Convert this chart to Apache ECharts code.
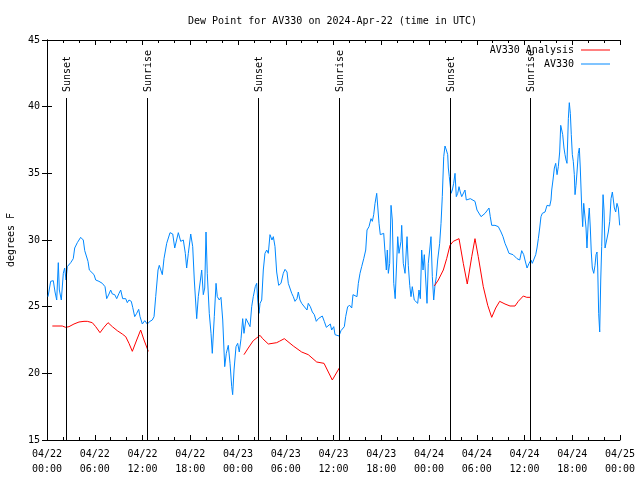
<!DOCTYPE html>
<html>
<head>
<meta charset="utf-8">
<script src="https://cdn.jsdelivr.net/npm/echarts@6/dist/echarts.min.js"></script>
<style>html,body{margin:0;padding:0;background:#fff}#c{width:640px;height:480px}</style>
</head>
<body>
<div id="c"></div>
<script>
// Hours since 2024-04-22 00:00 UTC
const tickLabels = ["04/22\n00:00","04/22\n06:00","04/22\n12:00","04/22\n18:00","04/23\n00:00","04/23\n06:00","04/23\n12:00","04/23\n18:00","04/24\n00:00","04/24\n06:00","04/24\n12:00","04/24\n18:00","04/25\n00:00"];

const obsHours = [0.13,0.46,0.79,1.01,1.22,1.42,1.55,1.80,2.05,2.22,2.39,2.55,2.98,3.30,3.48,3.81,4.23,4.56,4.74,4.99,5.15,5.32,5.57,5.91,6.12,6.53,6.95,7.29,7.50,7.79,8.00,8.21,8.51,8.76,9.05,9.26,9.51,9.89,10.09,10.30,10.59,10.77,11.02,11.27,11.52,11.69,11.98,12.28,12.60,12.94,13.23,13.45,13.66,13.95,14.11,14.36,14.49,14.70,15.04,15.46,15.80,16.05,16.30,16.50,16.80,17.13,17.38,17.55,17.76,18.06,18.31,18.51,18.81,19.01,19.23,19.44,19.64,19.82,19.98,20.14,20.39,20.61,20.77,21.02,21.24,21.40,21.65,21.86,22.08,22.33,22.53,22.78,23.00,23.21,23.33,23.50,23.75,23.96,24.16,24.38,24.59,24.75,25.01,25.26,25.51,25.72,25.92,26.17,26.35,26.48,26.64,26.77,26.98,27.18,27.39,27.61,27.81,28.02,28.27,28.44,28.65,28.86,29.11,29.40,29.69,29.91,30.16,30.32,30.53,30.75,30.95,31.16,31.41,31.58,31.79,32.00,32.26,32.51,32.67,32.83,33.09,33.34,33.59,33.84,34.09,34.34,34.59,34.84,35.10,35.35,35.60,35.77,36.03,36.19,36.44,36.69,36.94,37.19,37.36,37.53,37.78,38.04,38.29,38.45,38.70,38.95,39.12,39.33,39.54,39.80,40.05,40.21,40.46,40.71,40.88,41.05,41.22,41.43,41.55,41.72,41.88,42.13,42.31,42.47,42.64,42.76,42.89,43.06,43.23,43.39,43.57,43.75,44.07,44.23,44.48,44.57,44.77,44.99,45.24,45.40,45.58,45.74,45.90,46.15,46.40,46.58,46.74,46.91,47.08,47.25,47.41,47.59,47.75,47.91,48.09,48.25,48.42,48.59,48.75,48.92,49.09,49.34,49.51,49.67,49.85,50.01,50.18,50.35,50.43,50.55,50.77,50.93,51.10,51.27,51.43,51.61,51.77,51.93,52.11,52.36,52.52,52.69,52.94,53.19,53.44,53.78,54.03,54.28,54.54,54.79,55.04,55.29,55.54,55.70,55.88,56.29,56.71,57.05,57.30,57.55,57.80,58.05,58.30,58.56,58.81,59.06,59.31,59.40,59.65,59.90,60.06,60.32,60.57,60.82,60.98,61.16,61.41,61.57,61.74,61.91,62.07,62.24,62.58,62.83,63.17,63.33,63.42,63.58,63.75,63.92,64.09,64.25,64.42,64.55,64.68,64.80,64.96,65.09,65.22,65.34,65.51,65.63,65.76,65.88,66.01,66.13,66.26,66.35,66.47,66.60,66.76,66.89,67.01,67.19,67.31,67.44,67.60,67.73,67.85,68.02,68.14,68.27,68.39,68.52,68.70,68.86,68.99,69.11,69.20,69.32,69.45,69.58,69.70,69.87,69.99,70.12,70.37,70.53,70.71,70.87,71.04,71.16,71.29,71.46,71.62,71.79,71.96];
const obsDew = [25.75,26.9,26.95,26.1,25.5,28.3,26.25,25.5,27.5,27.9,27.0,28.0,28.3,28.6,29.4,29.8,30.2,30.0,29.2,29.25,28.4,27.75,27.6,27.4,27.0,26.9,26.75,26.5,25.6,25.95,26.25,25.95,25.9,25.6,26.0,26.25,25.6,25.6,25.3,25.5,25.4,24.95,24.25,24.5,24.8,24.25,23.7,23.95,23.7,23.9,24.0,24.25,25.75,27.75,28.1,28.25,27.4,28.6,29.75,30.55,30.45,29.4,29.5,30.55,29.9,30.0,29.0,27.9,29.0,30.45,29.5,27.0,24.1,25.75,25.9,27.75,25.9,26.4,30.6,27.5,24.5,23.0,21.5,24.25,26.75,25.75,25.5,25.7,24.0,20.5,21.5,22.1,20.75,19.0,18.4,20.25,22.0,22.25,21.6,22.6,24.1,23.0,24.1,24.25,23.5,25.0,25.75,26.5,26.75,25.5,24.5,25.25,25.5,27.75,29.0,29.25,29.0,30.4,30.0,30.25,29.5,27.6,26.6,26.75,27.5,27.8,27.6,26.75,26.9,26.0,25.75,25.4,25.6,26.1,25.5,25.25,25.05,25.0,24.75,25.25,25.0,24.6,24.4,23.9,24.1,24.05,24.3,23.9,23.45,23.5,23.7,23.25,23.5,22.9,23.0,22.8,23.2,23.05,23.5,24.25,25.0,25.1,24.9,25.9,26.0,25.75,26.75,27.5,28.0,28.6,29.25,30.75,31.0,31.6,31.4,31.9,32.75,33.5,33.5,31.25,30.4,30.5,30.5,29.1,27.75,29.25,27.5,28.25,32.6,31.5,26.75,25.6,30.25,29.0,29.9,31.1,28.25,27.5,30.25,28.1,26.6,25.75,26.5,25.5,25.4,25.25,26.25,25.6,29.25,27.75,28.9,27.0,25.25,28.25,29.25,30.25,27.25,25.5,26.6,27.25,28.5,29.75,31.25,33.25,36.25,37.05,36.75,36.4,35.4,34.75,33.5,33.75,34.25,35.0,33.25,33.5,34.0,33.6,33.25,33.1,33.75,33.0,32.9,33.1,33.1,32.9,32.25,32.4,31.75,31.9,32.0,32.1,32.4,31.75,31.1,31.1,31.0,30.6,30.25,29.75,29.4,29.0,29.1,28.9,28.95,28.6,28.6,28.5,29.2,28.9,28.5,27.9,28.25,28.5,28.25,28.1,28.9,29.4,30.1,30.9,31.75,32.0,32.1,32.6,32.55,33.0,33.75,34.5,35.4,35.75,34.9,35.5,36.6,38.6,38.25,37.9,36.9,36.4,36.0,35.75,39.1,40.3,39.5,37.9,36.4,35.9,34.9,33.4,34.1,35.1,36.5,36.9,35.4,32.4,31.0,32.75,32.6,30.9,29.4,31.5,32.4,30.9,29.1,27.9,27.5,28.1,28.9,29.1,27.9,24.5,23.1,27.0,29.5,33.4,32.25,29.4,29.4,30.6,31.4,33.1,33.6,33.75,32.4,32.1,32.75,32.4,31.1];

const anaHours = [0.67,1.92,2.35,2.76,3.39,4.02,4.65,5.06,5.69,6.12,6.66,7.16,7.67,8.21,8.83,9.46,9.89,10.30,10.72,11.27,11.77,12.19,12.73,18.0,24.75,25.29,25.92,26.77,27.10,27.81,28.86,29.19,29.82,30.95,32.00,32.83,33.89,34.81,35.85,36.73,42.0,48.67,49.17,49.80,50.22,50.64,51.05,51.77,52.31,52.81,53.37,53.78,54.19,54.82,55.38,55.88,56.38,56.88,57.55,58.18,58.81,59.22,59.85,60.28,60.82];
const anaDew = [23.55,23.55,23.45,23.5,23.7,23.85,23.9,23.9,23.8,23.5,23.05,23.45,23.8,23.5,23.2,22.95,22.75,22.25,21.65,22.5,23.25,22.5,21.65,null,21.4,21.9,22.45,22.85,22.6,22.2,22.3,22.4,22.6,22.05,21.6,21.4,20.85,20.75,19.5,20.4,null,26.55,27.0,27.75,28.6,29.6,29.9,30.1,28.25,26.7,28.75,30.1,28.75,26.5,25.1,24.2,24.9,25.4,25.2,25.05,25.05,25.4,25.8,25.7,25.7];

const sunHours = [2.39, 12.60, 26.55, 36.73, 50.68, 60.73];
const sunLabels = ["Sunset","Sunrise","Sunset","Sunrise","Sunset","Sunrise"];

const FONT = 'DejaVu Sans Mono';
const chart = echarts.init(document.getElementById('c'), null, {renderer:'canvas'});
const axisCommon = {
  min: 0, max: 72, interval: 6,
  axisLine: {show:true, lineStyle:{color:'#000', width:1}},
  axisTick: {show:true, inside:true, length:5, lineStyle:{color:'#000'}},
  minorTick: {show:true, splitNumber:3, length:3, lineStyle:{color:'#000'}},
  splitLine: {show:false}
};
const yCommon = {
  min: 15, max: 45, interval: 5,
  axisLine: {show:true, lineStyle:{color:'#000', width:1}},
  axisTick: {show:true, inside:true, length:5, lineStyle:{color:'#000'}},
  splitLine: {show:false}
};
chart.setOption({
  animation: false,
  backgroundColor: '#fff',
  title: {
    text: 'Dew Point for AV330 on 2024-Apr-22 (time in UTC)',
    left: 183, top: 11,
    textStyle: {fontFamily: FONT, fontSize: 10, fontWeight: 'normal', color: '#000'}
  },
  legend: {
    orient: 'vertical', right: 25, top: 40, align: 'right',
    icon: 'rect', itemWidth: 29, itemHeight: 1, itemGap: 4,
    textStyle: {fontFamily: FONT, fontSize: 10, color: '#000', padding: [0, 2, 0, 0]},
    data: ['AV330 Analysis', 'AV330']
  },
  grid: {left: 47, right: 20, top: 40, bottom: 40, containLabel: false, outerBoundsMode: 'none'},
  xAxis: [
    Object.assign({type:'value', position:'bottom',
      axisLabel: {show:true, color:'#000', fontFamily:FONT, fontSize:10, lineHeight:15, margin:7,
        formatter: v => tickLabels[Math.round(v/6)]}}, axisCommon),
    Object.assign({type:'value', position:'top', axisLabel:{show:false}}, axisCommon)
  ],
  yAxis: [
    Object.assign({type:'value', position:'left', name:'degrees F', nameLocation:'middle', nameGap:31,
      nameTextStyle:{fontFamily:FONT, fontSize:10, color:'#000'},
      axisLabel:{color:'#000', fontFamily:FONT, fontSize:10, margin:7}}, yCommon),
    Object.assign({type:'value', position:'right', axisLabel:{show:false}}, yCommon)
  ],
  series: [
    {
      name: 'AV330 Analysis', type: 'line', symbol: 'none', connectNulls: false,
      lineStyle: {color: '#ff0000', width: 1}, itemStyle: {color: '#ff0000'},
      data: anaHours.map((h, i) => [h, anaDew[i]]), z: 3
    },
    {
      name: 'AV330', type: 'line', symbol: 'none',
      lineStyle: {color: '#0088ff', width: 1}, itemStyle: {color: '#0088ff'},
      data: obsHours.map((h, i) => [h, obsDew[i]]), z: 2
    },
    {
      name: 'sun', type: 'custom', z: 5, silent: true,
      data: sunHours.map(h => [h]),
      renderItem: (params, api) => {
        const t = api.value(0);
        const p0 = api.coord([t, 15]);
        const p1 = api.coord([t, 40.65]);
        const x = Math.round(p0[0]) + 0.5;
        return {type:'group', children:[
          {type:'line', shape:{x1:x, y1:p0[1], x2:x, y2:p1[1]}, style:{stroke:'#000', lineWidth:1}},
          {type:'text', x: x + 1, y: p1[1] - 6, rotation: Math.PI/2,
            style:{text: sunLabels[params.dataIndex], font: '10px ' + FONT, fill:'#000', align:'left', verticalAlign:'middle'}}
        ]};
      }
    }
  ]
});
</script>
</body>
</html>
